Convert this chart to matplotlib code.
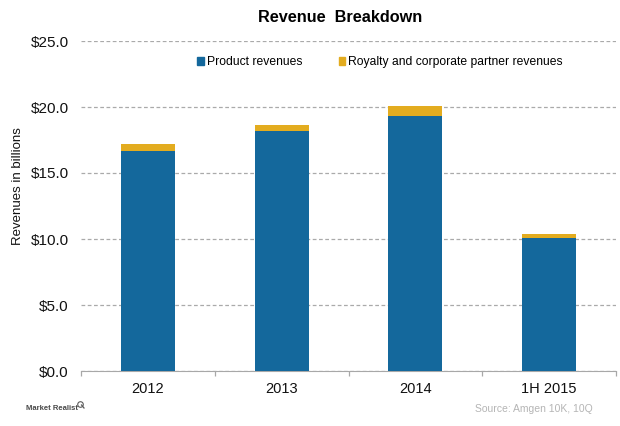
import matplotlib
matplotlib.use('Agg')
import matplotlib.pyplot as plt
from matplotlib.patches import Patch
from matplotlib.lines import Line2D

categories = ['2012', '2013', '2014', '1H 2015']
product = [16.65, 18.15, 19.33, 10.1]
royalty = [0.55, 0.52, 0.73, 0.27]
yticks = [0, 5, 10, 15, 20, 25]
ylabels = ['$0.0', '$5.0', '$10.0', '$15.0', '$20.0', '$25.0']
boundaries = [-0.5, 0.5, 1.5, 2.5, 3.5]

plt.rcParams['font.family'] = ['Liberation Sans', 'DejaVu Sans']
fig = plt.figure(figsize=(6.2, 4.26), dpi=100)
ax = fig.add_axes([81/620, 1-371/426, 535/620, (371-41)/426])
x = range(4)
ax.bar(x, product, width=0.405, color='#14689C', zorder=3)
ax.bar(x, royalty, bottom=product, width=0.405, color='#E3AC1F', zorder=3)
ax.set_xlim(-0.5, 3.5)
ax.set_ylim(0, 25)
ax.set_xticks(list(x), categories, fontsize=10.5)
ax.set_xticks(boundaries, minor=True)
ax.set_yticks(yticks, ylabels, fontsize=11)
ax.tick_params(axis='x', which='major', length=0, pad=8, colors='#111111')
ax.tick_params(axis='x', which='minor', length=3.5, width=0.9, color='#a8a8a8')
ax.tick_params(axis='y', length=0, pad=8.7, colors='#111111')
ax.yaxis.grid(True, linestyle=(0, (3, 2)), color='#aaaaaa', linewidth=0.9, zorder=0)
for s in ['top', 'right', 'left']:
    ax.spines[s].set_visible(False)
ax.spines['bottom'].set_color('#a8a8a8')
fig.text(18.5/620, 1-186.5/426, 'Revenues in billions', rotation=90, ha='center', va='center', fontsize=9.5, color='#111111')
fig.text(340.5/620, 1-17/426, 'Revenue  Breakdown', ha='center', va='center', fontsize=11.7, fontweight='bold')
fig.legend(handles=[Patch(color='#14689C', label='Product revenues'),
                    Patch(color='#E3AC1F', label='Royalty and corporate partner revenues')],
           loc='center', bbox_to_anchor=(380/620, 1-62/426), ncol=2, frameon=False,
           fontsize=8.7, handlelength=0.55, handleheight=0.7, handletextpad=0.25, columnspacing=3.0)
fig.text(26/620, 1-408/426, 'Market Realist', fontsize=5.5, fontweight='bold', color='#4a4a4a', va='center')
fig.add_artist(Line2D([80/620], [1-403.5/426], marker='o', markersize=4, markerfacecolor='none',
                      markeredgecolor='#5a5a5a', markeredgewidth=0.8, transform=fig.transFigure))
fig.add_artist(Line2D([81.5/620, 84/620], [1-405/426, 1-408/426], color='#5a5a5a', linewidth=0.9,
                      transform=fig.transFigure))
fig.text(593/620, 1-409/426, 'Source: Amgen 10K, 10Q', ha='right', va='center', fontsize=7.5, color='#b5b5b5')
fig.savefig('out.png', dpi=100)
